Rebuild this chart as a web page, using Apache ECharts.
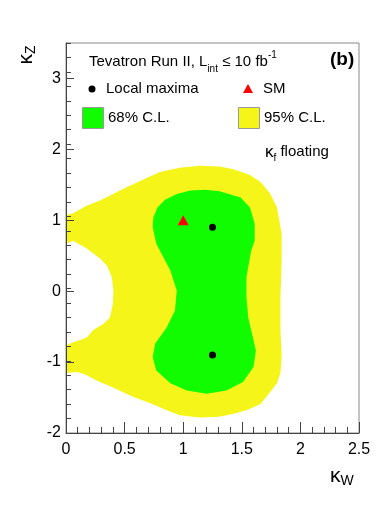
<!DOCTYPE html>
<html>
<head>
<meta charset="utf-8">
<script src="https://cdn.jsdelivr.net/npm/echarts@6/dist/echarts.min.js"></script>
<style>
  html, body { margin: 0; padding: 0; background: #fff; }
  #chart { width: 390px; height: 529px; }
</style>
</head>
<body>
<div id="chart"></div>
<script>
// 95% C.L. outline in (kappa_W, kappa_Z), clockwise; the white hole on the left is part of it
const cl95 = [
  [0, 1.07], [0.06, 1.10], [0.18, 1.21], [0.29, 1.28], [0.52, 1.47], [0.80, 1.68],
  [0.97, 1.74], [1.14, 1.77], [1.31, 1.76], [1.43, 1.72], [1.57, 1.64], [1.66, 1.54],
  [1.74, 1.38], [1.80, 1.18], [1.84, 0.81], [1.84, 0.43], [1.83, -0.06], [1.83, -0.55],
  [1.84, -0.91], [1.83, -1.15], [1.80, -1.30], [1.71, -1.49], [1.66, -1.59], [1.54, -1.68],
  [1.43, -1.73], [1.31, -1.77], [1.14, -1.78], [0.97, -1.75], [0.86, -1.68], [0.72, -1.58],
  [0.57, -1.49], [0.40, -1.36], [0.26, -1.26], [0.16, -1.17], [0.09, -1.14], [0.03, -1.15],
  [0, -1.15], [0, -0.765], [0.06, -0.72], [0.12, -0.69], [0.18, -0.65], [0.23, -0.55],
  [0.32, -0.46], [0.375, -0.37], [0.40, -0.18], [0.405, 0.01], [0.39, 0.20], [0.35, 0.36],
  [0.29, 0.46], [0.18, 0.60], [0.06, 0.71], [0, 0.67]
];

// 68% C.L. outline
const cl68 = [
  [0.745, 1.04], [0.78, 1.18], [0.845, 1.29], [0.945, 1.37], [1.06, 1.42], [1.19, 1.43],
  [1.31, 1.41], [1.49, 1.32], [1.57, 1.18], [1.61, 0.95], [1.61, 0.71], [1.58, 0.57],
  [1.54, 0.20], [1.54, -0.09], [1.555, -0.37], [1.60, -0.69], [1.62, -0.84], [1.60, -1.07],
  [1.51, -1.28], [1.37, -1.40], [1.20, -1.445], [1.03, -1.40], [0.89, -1.30], [0.77, -1.12],
  [0.74, -0.93], [0.76, -0.74], [0.86, -0.51], [0.93, -0.27], [0.945, 0.01], [0.89, 0.29],
  [0.77, 0.67], [0.74, 0.90]
];

const localMaxima = [[1.25, 0.9], [1.25, -0.9]];
const smPoint = [[1.0, 1.0]];

const FONT = 'Liberation Sans, Arial, sans-serif';
const YELLOW = '#f5f51a';
const GREEN = '#12fc00';

function contour(name, pts, color) {
  return {
    name: name,
    type: 'custom',
    data: pts,
    silent: true,
    clip: true,
    z: 2,
    renderItem: function (params, api) {
      if (params.dataIndex !== 0) return null;
      return {
        type: 'polygon',
        shape: { points: pts.map(p => api.coord(p)) },
        style: { fill: color }
      };
    }
  };
}

const chart = echarts.init(document.getElementById('chart'), null, { renderer: 'canvas' });

const tickColor = '#444';

chart.setOption({
  animation: false,
  backgroundColor: '#fff',
  grid: {
    left: 66, right: 31, top: 43, bottom: 96,
    show: true, borderColor: '#888', borderWidth: 1
  },
  xAxis: {
    type: 'value', min: 0, max: 2.5, interval: 0.5, z: 10,
    axisLine: { onZero: false, lineStyle: { color: tickColor, width: 1 } },
    axisTick: { inside: true, length: 11, lineStyle: { color: tickColor } },
    minorTick: { show: true, splitNumber: 5, length: 6, lineStyle: { color: tickColor } },
    axisLabel: { margin: 9, fontSize: 16, color: '#000', fontFamily: FONT },
    splitLine: { show: false }
  },
  yAxis: [
    {
      type: 'value', min: -2, max: 3.5, interval: 1, z: 10,
      axisLine: { onZero: false, lineStyle: { color: tickColor, width: 1 } },
      axisTick: { inside: true, length: 8, lineStyle: { color: tickColor } },
      axisLabel: { margin: 5, fontSize: 16, color: '#000', fontFamily: FONT, showMaxLabel: false },
      splitLine: { show: false }
    },
    {
      type: 'value', min: -2, max: 3.4, interval: 0.2, z: 10, position: 'left',
      axisLine: { show: false, onZero: false },
      axisTick: { inside: true, length: 5, lineStyle: { color: tickColor } },
      axisLabel: { show: false },
      splitLine: { show: false }
    }
  ],
  series: [
    contour('95% C.L.', cl95, YELLOW),
    contour('68% C.L.', cl68, GREEN),
    {
      name: 'Local maxima', type: 'scatter', data: localMaxima, z: 5,
      symbol: 'circle', symbolSize: 7, itemStyle: { color: '#000', opacity: 1 }
    },
    {
      name: 'SM', type: 'scatter', data: smPoint, z: 5,
      symbol: 'triangle', symbolSize: [11, 10], itemStyle: { color: '#f00', opacity: 1 }
    }
  ],
  graphic: [
    {
      type: 'text', x: 89, y: 62, z: 20,
      style: {
        text: '{a|Tevatron Run II, L}{sub|int}{a| ≤ 10 fb}{sup|-1}',
        verticalAlign: 'middle',
        rich: {
          a: { fontSize: 15, fontFamily: FONT, fill: '#000', lineHeight: 24 },
          sub: { fontSize: 10, fontFamily: FONT, fill: '#000', lineHeight: 10, verticalAlign: 'bottom' },
          sup: { fontSize: 10, fontFamily: FONT, fill: '#000', lineHeight: 10, verticalAlign: 'top' }
        }
      }
    },
    {
      type: 'text', x: 330, y: 60, z: 20,
      style: { text: '(b)', font: 'bold 19px ' + FONT, fill: '#000', verticalAlign: 'middle' }
    },
    { type: 'circle', shape: { cx: 92, cy: 89, r: 3.5 }, style: { fill: '#000' }, z: 20 },
    {
      type: 'text', x: 106, y: 89, z: 20,
      style: { text: 'Local maxima', font: '15px ' + FONT, fill: '#000', verticalAlign: 'middle' }
    },
    { type: 'polygon', shape: { points: [[243, 93], [253, 93], [248, 84]] }, style: { fill: '#f00' }, z: 20 },
    {
      type: 'text', x: 263, y: 89, z: 20,
      style: { text: 'SM', font: '15px ' + FONT, fill: '#000', verticalAlign: 'middle' }
    },
    {
      type: 'rect', shape: { x: 82.5, y: 107.5, width: 21, height: 21 },
      style: { fill: GREEN, stroke: '#9a9a9a', lineWidth: 1 }, z: 20
    },
    {
      type: 'text', x: 108, y: 118, z: 20,
      style: { text: '68% C.L.', font: '15px ' + FONT, fill: '#000', verticalAlign: 'middle' }
    },
    {
      type: 'rect', shape: { x: 238.5, y: 107.5, width: 21, height: 21 },
      style: { fill: YELLOW, stroke: '#9a9a9a', lineWidth: 1 }, z: 20
    },
    {
      type: 'text', x: 264, y: 118, z: 20,
      style: { text: '95% C.L.', font: '15px ' + FONT, fill: '#000', verticalAlign: 'middle' }
    },
    {
      type: 'text', x: 265, y: 152, z: 20,
      style: {
        text: '{k|κ}{sub|f}{a| floating}',
        verticalAlign: 'middle',
        rich: {
          k: { fontSize: 17, fontFamily: FONT, fill: '#000', lineHeight: 22 },
          a: { fontSize: 15, fontFamily: FONT, fill: '#000', lineHeight: 22 },
          sub: { fontSize: 10, fontFamily: FONT, fill: '#000', lineHeight: 10, verticalAlign: 'bottom' }
        }
      }
    },
    {
      type: 'text', x: 330, y: 476, z: 20,
      style: {
        text: '{k|κ}{sub|W}',
        verticalAlign: 'middle',
        rich: {
          k: { fontSize: 21, fontFamily: FONT, fill: '#000', lineHeight: 24 },
          sub: { fontSize: 14, fontFamily: FONT, fill: '#000', lineHeight: 14, verticalAlign: 'bottom' }
        }
      }
    },
    {
      type: 'text', x: 26, y: 55, z: 20, rotation: Math.PI / 2,
      style: {
        text: '{k|κ}{sub|Z}',
        align: 'center',
        verticalAlign: 'middle',
        rich: {
          k: { fontSize: 21, fontFamily: FONT, fill: '#000', lineHeight: 24 },
          sub: { fontSize: 14, fontFamily: FONT, fill: '#000', lineHeight: 14, verticalAlign: 'bottom' }
        }
      }
    }
  ]
});
</script>
</body>
</html>
